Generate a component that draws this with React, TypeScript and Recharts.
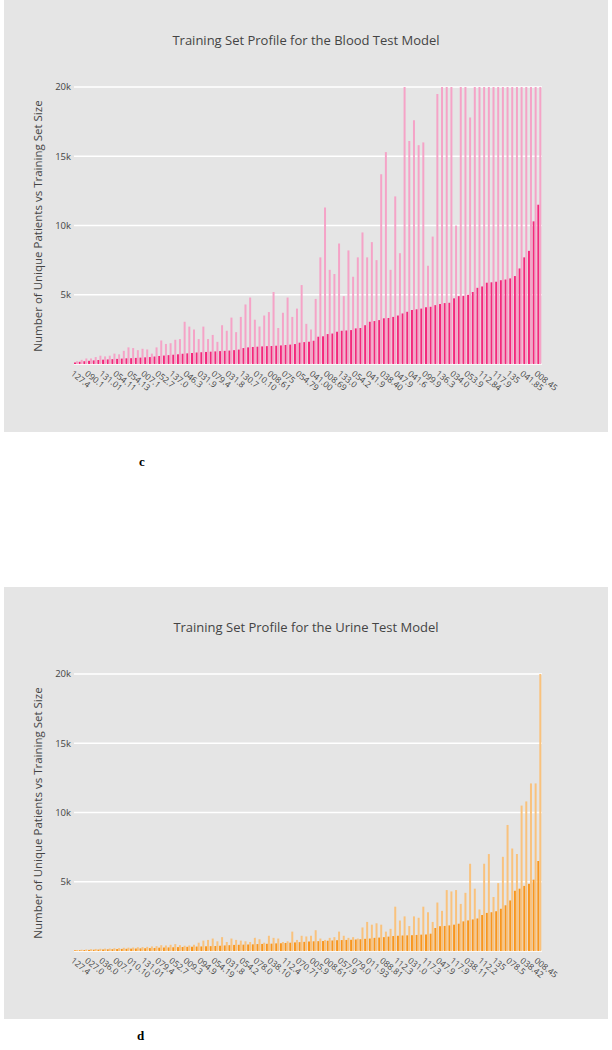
import React from 'react';
import { Bar, BarChart, CartesianGrid, XAxis, YAxis } from 'recharts';

// tick labels shown on every third category (plotly auto-thinned them)
const bloodTickLabels = [
  '127.4', '090.1', '131.01', '054.11', '054.13', '007.1', '052.7', '137.0', '046.3',
  '031.9', '079.4', '031.8', '130.7', '010.10', '008.61', '075', '054.79', '041.00',
  '008.69', '133.0', '054.2', '041.9', '038.40', '047.9', '041.6', '099.9', '136.3',
  '034.0', '053.9', '112.84', '117.9', '135', '041.85', '008.45'
];

const urineTickLabels = [
  '127.4', '027.0', '036.0', '007.1', '010.10', '131.01', '079.4', '052.7', '009.3',
  '094.9', '054.19', '031.8', '054.2', '078.0', '038.10', '112.4', '070.71', '005.9',
  '008.61', '057.9', '079.0', '011.93', '088.81', '112.3', '031.0', '117.3', '047.9',
  '117.9', '038.11', '112.2', '135', '078.5', '038.42', '008.45'
];

// blood test model: unique patients / training set size, per code
const bloodUnique = [
  100, 160, 200, 230, 260, 290, 310, 330, 350, 370,
  390, 410, 420, 440, 460, 480, 500, 540, 580, 610,
  640, 670, 700, 740, 770, 800, 830, 850, 870, 890,
  910, 930, 950, 970, 1000, 1040, 1150, 1200, 1230, 1250,
  1270, 1290, 1300, 1320, 1340, 1370, 1400, 1440, 1540, 1580,
  1600, 1680, 1970, 2000, 2160, 2200, 2330, 2400, 2420, 2450,
  2570, 2600, 2800, 3050, 3100, 3170, 3300, 3320, 3400, 3500,
  3650, 3770, 3900, 3950, 4000, 4100, 4130, 4250, 4330, 4400,
  4420, 4740, 4900, 4920, 5000, 5200, 5500, 5600, 5870, 5900,
  5940, 6050, 6100, 6180, 6350, 6900, 7700, 8170, 10300, 11500
];

const bloodTraining = [
  200, 300, 400, 400, 500, 600, 550, 600, 750, 700,
  950, 1200, 1150, 1000, 1100, 1050, 750, 1200, 1700, 1450,
  1500, 1750, 1800, 3050, 2700, 2500, 1800, 2700, 1800, 2100,
  1600, 2800, 2400, 3350, 2300, 3400, 4300, 4800, 3200, 2700,
  3500, 3750, 5200, 2600, 3700, 4800, 3400, 4000, 5700, 2900,
  2500, 4700, 7700, 11300, 6800, 6500, 8700, 4900, 8200, 6300,
  7700, 9500, 7700, 8800, 7500, 13700, 15300, 6800, 12100, 8000,
  20000, 16100, 17600, 15800, 16000, 7100, 9200, 19500, 20000, 20000,
  20000, 10000, 20000, 20000, 17800, 20000, 20000, 20000, 20000, 20000,
  20000, 20000, 20000, 20000, 20000, 20000, 20000, 20000, 20000, 20000
];

// urine test model
const urineUnique = [
  50, 60, 70, 80, 90, 100, 110, 120, 130, 140,
  150, 160, 170, 180, 190, 200, 210, 220, 240, 250,
  260, 270, 280, 290, 300, 310, 320, 330, 340, 350,
  360, 380, 400, 420, 440, 450, 460, 470, 480, 500,
  510, 520, 530, 550, 560, 580, 600, 620, 640, 660,
  680, 700, 710, 720, 740, 760, 780, 790, 800, 810,
  830, 850, 880, 900, 950, 970, 1000, 1040, 1080, 1100,
  1120, 1130, 1140, 1160, 1180, 1200, 1250, 1660, 1790, 1810,
  1850, 1900, 1970, 2140, 2210, 2280, 2350, 2600, 2750, 2800,
  2870, 3050, 3300, 3650, 4350, 4500, 4700, 4850, 5150, 6500
];

const urineTraining = [
  80, 90, 110, 130, 150, 160, 170, 180, 200, 210,
  230, 240, 250, 270, 280, 300, 330, 350, 420, 400,
  450, 500, 420, 380, 400, 450, 600, 750, 800, 900,
  700, 1000, 650, 900, 800, 750, 700, 650, 950, 850,
  600, 1100, 950, 900, 650, 700, 1400, 800, 1100, 1050,
  1100, 1500, 900, 800, 950, 1000, 1400, 1100, 950, 1000,
  900, 1700, 2100, 1900, 2000, 1900, 1400, 1600, 3200, 2200,
  2500, 1800, 2500, 2400, 3200, 2800, 2100, 3500, 2900, 4400,
  4300, 4400, 3400, 4200, 6300, 4500, 3000, 6300, 7000, 3900,
  4900, 6800, 9100, 7400, 7000, 10500, 10800, 12100, 12100, 20000
];

const yTicks = [5000, 10000, 15000, 20000];

const FONT = '"Open Sans", "Noto Sans", sans-serif';
const PANEL_W = 604;
const PANEL_H = 432;

function CodeTick(props: any) {
  const { x, y, payload, labels } = props;
  const i = Number(payload.value);
  if (i % 3 !== 0) return null;
  return (
    <text
      transform={`translate(${x},${y}) rotate(38)`}
      x={-3}
      y={0}
      dy="0.7em"
      textAnchor="start"
      fontSize={8.5}
      fontFamily={FONT}
      fill="#444"
    >
      {labels[i / 3]}
    </text>
  );
}

type PanelProps = {
  title: string;
  top: number;
  tickLabels: string[];
  unique: number[];
  training: number[];
  dark: string;
  light: string;
};

function ProfilePanel({ title, top, tickLabels, unique, training, dark, light }: PanelProps) {
  const data = unique.map((u, i) => ({ pos: i, unique: u, training: training[i] }));
  return (
    <div
      style={{
        position: 'absolute',
        left: 4,
        top,
        width: PANEL_W,
        height: PANEL_H,
        background: '#e5e5e5'
      }}
    >
      <div
        style={{
          position: 'absolute',
          top: 31,
          left: 0,
          width: PANEL_W,
          textAlign: 'center',
          fontFamily: FONT,
          fontSize: 13,
          color: '#444'
        }}
      >
        {title}
      </div>
      <div
        style={{
          position: 'absolute',
          left: 34 - 150,
          top: 226 - 8,
          width: 300,
          height: 16,
          lineHeight: '16px',
          textAlign: 'center',
          transform: 'rotate(-90deg)',
          fontFamily: FONT,
          fontSize: 11.5,
          color: '#444'
        }}
      >
        Number of Unique Patients vs Training Set Size
      </div>
      <BarChart
        width={PANEL_W}
        height={PANEL_H}
        data={data}
        margin={{ top: 87, right: 66, bottom: 8, left: 0 }}
        barGap={0}
        barSize={2}
      >
        <CartesianGrid vertical={false} stroke="#ffffff" strokeWidth={1.3} />
        <XAxis
          dataKey="pos"
          type="category"
          interval={0}
          height={60}
          axisLine={false}
          tickLine={false}
          tick={<CodeTick labels={tickLabels} />}
        />
        <YAxis
          width={70}
          domain={[0, 20000]}
          ticks={yTicks}
          allowDataOverflow
          axisLine={false}
          tickLine={false}
          tickSize={0}
          tickMargin={3}
          tickFormatter={(v: number) => `${v / 1000}k`}
          tick={{ fontSize: 9.5, fill: '#444', fontFamily: FONT }}
        />
        <Bar dataKey="unique" fill={dark} isAnimationActive={false} />
        <Bar dataKey="training" fill={light} isAnimationActive={false} />
      </BarChart>
    </div>
  );
}

export default function App() {
  return (
    <div
      style={{
        position: 'absolute',
        left: 0,
        top: 0,
        width: 612,
        height: 1050,
        background: '#ffffff'
      }}
    >
      <ProfilePanel
        title="Training Set Profile for the Blood Test Model"
        top={0}
        tickLabels={bloodTickLabels}
        unique={bloodUnique}
        training={bloodTraining}
        dark="#f4287c"
        light="#f5a3c7"
      />
      <div
        style={{
          position: 'absolute',
          left: 139,
          top: 454,
          fontFamily: '"Liberation Serif", serif',
          fontWeight: 'bold',
          fontSize: 13
        }}
      >
        c
      </div>
      <ProfilePanel
        title="Training Set Profile for the Urine Test Model"
        top={587}
        tickLabels={urineTickLabels}
        unique={urineUnique}
        training={urineTraining}
        dark="#f8961e"
        light="#f9c27d"
      />
      <div
        style={{
          position: 'absolute',
          left: 137,
          top: 1028,
          fontFamily: '"Liberation Serif", serif',
          fontWeight: 'bold',
          fontSize: 13
        }}
      >
        d
      </div>
    </div>
  );
}
